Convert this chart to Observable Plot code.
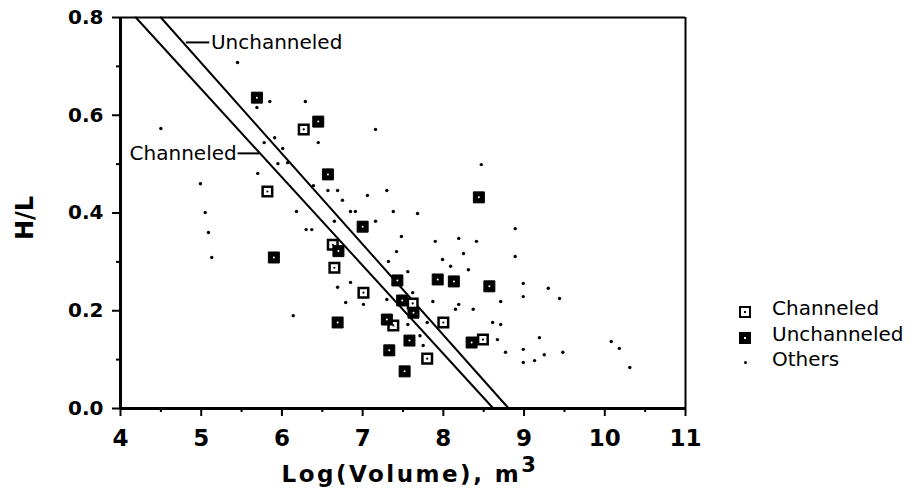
<!DOCTYPE html>
<html><head><meta charset="utf-8">
<script src="https://cdn.jsdelivr.net/npm/d3@7"></script>
<script src="https://cdn.jsdelivr.net/npm/@observablehq/plot@0.6"></script>
<style>
body{margin:0;background:#fff;}
#wrap{position:relative;width:913px;height:497px;background:#fff;overflow:hidden;}
#wrap svg{position:absolute;left:0;top:0;}
.xtitle{position:absolute;left:200px;width:420px;top:461px;text-align:center;font:bold 23px "DejaVu Sans";letter-spacing:2.5px;color:#000;white-space:nowrap;line-height:26px;}
.xtitle sup{font-size:21px;position:relative;top:-1px;vertical-align:super;line-height:0;}
.ytitle{position:absolute;left:25px;top:218px;transform:translate(-50%,-50%) rotate(-90deg);font:bold 24px "DejaVu Sans";color:#000;white-space:nowrap;}
.legend{position:absolute;left:739px;top:296px;font:20px "DejaVu Sans";color:#000;}
.legend .row{position:relative;height:25.5px;}
.legend .sw{position:absolute;left:0;top:10px;box-sizing:border-box;}
.legend .lab{position:absolute;left:33px;top:0;white-space:nowrap;line-height:24px;}
.sw.open{width:12px;height:12px;border:2.5px solid #000;background:#fff;}
.sw.open::after{content:"";position:absolute;left:2.5px;top:2.5px;width:2px;height:2px;background:#000;}
.sw.fill{width:12px;height:12px;background:#000;}
.sw.fill::after{content:"";position:absolute;left:5px;top:5px;width:2px;height:2px;background:#fff;}
.sw.dot{width:3px;height:3px;background:#000;left:5px;top:14px;border-radius:50%;}
</style></head><body><div id="wrap"></div>
<script>
// Channeled (open squares)
const channeledX = [6.27, 5.82, 6.63, 6.65, 7.01, 7.62, 7.38, 8.00, 8.49, 7.80];
const channeledY = [0.571, 0.444, 0.335, 0.288, 0.237, 0.215, 0.170, 0.176, 0.141, 0.102];
// Unchanneled (filled squares)
const unchanneledX = [5.69, 6.45, 6.57, 7.00, 8.44, 6.70, 5.90, 6.69, 7.43, 7.93, 8.13, 8.57, 7.49, 7.63, 7.30, 7.58, 7.33, 7.52, 8.35];
const unchanneledY = [0.636, 0.587, 0.479, 0.372, 0.432, 0.322, 0.309, 0.176, 0.262, 0.264, 0.260, 0.250, 0.221, 0.196, 0.182, 0.139, 0.119, 0.076, 0.135];
// Others (small dots)
const othersX = [5.45, 5.85, 5.69, 6.29, 7.16, 4.50, 6.45, 5.91, 5.78, 6.01, 5.95, 6.07, 5.70, 4.99, 6.39, 6.57, 6.69, 7.06, 6.75, 7.30,
  8.47, 5.05, 6.18, 6.85, 6.91, 7.16, 6.65, 6.30, 6.37, 5.09, 5.13, 6.85, 6.69, 6.79, 7.01, 6.14, 7.38, 7.68, 8.89, 7.48,
  7.90, 8.19, 8.41, 7.42, 8.25, 8.89, 7.32, 7.99, 8.09, 8.31, 7.56, 8.99, 9.30, 8.99, 9.44, 7.62, 7.30, 7.87, 8.19, 8.15,
  8.37, 8.71, 7.80, 7.56, 8.61, 8.71, 7.71, 7.75, 8.67, 9.19, 8.77, 8.99, 9.25, 9.48, 8.99, 9.13, 10.08, 10.18, 10.31];
const othersY = [0.708, 0.628, 0.616, 0.628, 0.571, 0.573, 0.544, 0.554, 0.544, 0.532, 0.501, 0.503, 0.481, 0.460, 0.456, 0.446, 0.446, 0.436, 0.426, 0.446,
  0.499, 0.401, 0.403, 0.403, 0.403, 0.383, 0.383, 0.366, 0.366, 0.360, 0.309, 0.258, 0.248, 0.217, 0.213, 0.190, 0.403, 0.399, 0.368, 0.352,
  0.342, 0.348, 0.342, 0.321, 0.317, 0.311, 0.301, 0.305, 0.291, 0.284, 0.280, 0.256, 0.246, 0.229, 0.225, 0.237, 0.223, 0.219, 0.213, 0.203,
  0.203, 0.219, 0.176, 0.172, 0.176, 0.172, 0.149, 0.129, 0.141, 0.145, 0.115, 0.121, 0.110, 0.115, 0.094, 0.098, 0.137, 0.123, 0.084];
// Regression lines
const lineChanneledX = [4.19, 8.62];
const lineChanneledY = [0.8, 0];
const lineUnchanneledX = [4.50, 8.81];
const lineUnchanneledY = [0.8, 0];
// Line annotations
const annLabels = ["Unchanneled", "Channeled"];
const annTextX = [5.12, 5.44];
const annTextY = [0.749, 0.522];
const annLeaderX1 = [4.81, 5.45];
const annLeaderX2 = [5.10, 5.72];
// Axes
const xTicks = [4, 5, 6, 7, 8, 9, 10, 11];
const xMinorTicks = [4.5, 5.5, 6.5, 7.5, 8.5, 9.5, 10.5];
const yTicks = [0, 0.2, 0.4, 0.6, 0.8];
const yMinorTicks = [0.1, 0.3, 0.5, 0.7];
const xTitle = "Log(Volume), m";
const xTitleSup = "3";
const yTitle = "H/L";
const legendLabels = ["Channeled", "Unchanneled", "Others"];

const ch = channeledX.map((x, i) => ({x, y: channeledY[i]}));
const un = unchanneledX.map((x, i) => ({x, y: unchanneledY[i]}));
const ot = othersX.map((x, i) => ({x, y: othersY[i]}));
const lc = lineChanneledX.map((x, i) => ({x, y: lineChanneledY[i]}));
const lu = lineUnchanneledX.map((x, i) => ({x, y: lineUnchanneledY[i]}));
const ann = annLabels.map((t, i) => ({t, x: annTextX[i], y: annTextY[i], x1: annLeaderX1[i], x2: annLeaderX2[i]}));

const chart = Plot.plot({
  width: 913, height: 497,
  marginLeft: 120, marginRight: 228, marginTop: 17, marginBottom: 89,
  x: {domain: [4, 11]},
  y: {domain: [0, 0.8]},
  style: {fontFamily: "DejaVu Sans", color: "#000", background: "transparent", overflow: "visible"},
  marks: [
    Plot.axisX({ticks: xTicks, tickSize: 8, tickPadding: 13, strokeWidth: 2, fontSize: 23, fontWeight: "bold", tickFormat: d => String(d), label: null}),
    Plot.axisX({ticks: xMinorTicks, tickSize: 4, strokeWidth: 2, tickFormat: () => "", label: null}),
    Plot.axisY({ticks: yTicks, tickSize: 8, tickPadding: 9, strokeWidth: 2, fontSize: 20, fontWeight: "bold", tickFormat: d3.format(".1f"), label: null}),
    Plot.axisY({ticks: yMinorTicks, tickSize: 4, strokeWidth: 2, tickFormat: () => "", label: null}),
    Plot.ruleY([0.8], {strokeWidth: 2}),
    Plot.ruleX([11], {strokeWidth: 2}),
    Plot.ruleY([0], {strokeWidth: 3}),
    Plot.ruleX([4], {strokeWidth: 3}),
    Plot.line(lc, {x: "x", y: "y", stroke: "#000", strokeWidth: 2}),
    Plot.line(lu, {x: "x", y: "y", stroke: "#000", strokeWidth: 2}),
    Plot.link(ann, {x1: "x1", x2: "x2", y1: "y", y2: "y", stroke: "#000", strokeWidth: 2}),
    Plot.text(ann.slice(0, 1), {x: "x", y: "y", text: "t", textAnchor: "start", fontSize: 20, fill: "#000"}),
    Plot.text(ann.slice(1), {x: "x", y: "y", text: "t", textAnchor: "end", fontSize: 20, fill: "#000"}),
    Plot.dot(ot, {x: "x", y: "y", r: 1.7, fill: "#000"}),
    Plot.dot(ch, {x: "x", y: "y", symbol: "square", r: 5.4, fill: "#fff", stroke: "#000", strokeWidth: 2.5}),
    Plot.dot(ch, {x: "x", y: "y", r: 1.1, fill: "#000"}),
    Plot.dot(un, {x: "x", y: "y", symbol: "square", r: 6.2, fill: "#000", stroke: "#000", strokeWidth: 1}),
    Plot.dot(un, {x: "x", y: "y", r: 1, fill: "#fff"})
  ]
});
const wrap = document.getElementById("wrap");
wrap.appendChild(chart);

const xt = document.createElement("div");
xt.className = "xtitle";
xt.append(xTitle);
const sup = document.createElement("sup");
sup.textContent = xTitleSup;
xt.appendChild(sup);
wrap.appendChild(xt);

const yt = document.createElement("div");
yt.className = "ytitle";
yt.textContent = yTitle;
wrap.appendChild(yt);

const lg = document.createElement("div");
lg.className = "legend";
const swClass = ["open", "fill", "dot"];
legendLabels.forEach((l, i) => {
  const row = document.createElement("div");
  row.className = "row";
  const sw = document.createElement("span");
  sw.className = "sw " + swClass[i];
  const lab = document.createElement("span");
  lab.className = "lab";
  lab.textContent = l;
  row.appendChild(sw); row.appendChild(lab);
  lg.appendChild(row);
});
wrap.appendChild(lg);
</script>
</body></html>
